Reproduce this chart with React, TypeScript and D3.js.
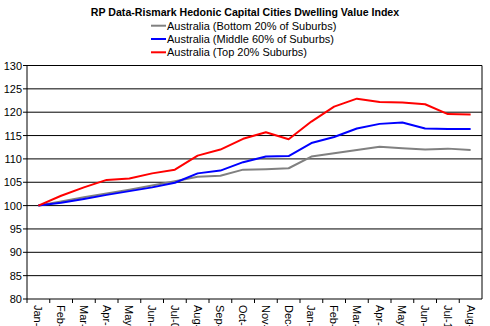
import React from "react";
import * as d3 from "d3";

const months = ["Jan-09","Feb-09","Mar-09","Apr-09","May-09","Jun-09","Jul-09","Aug-09","Sep-09","Oct-09","Nov-09","Dec-09","Jan-10","Feb-10","Mar-10","Apr-10","May-10","Jun-10","Jul-10","Aug-10"];
const bottom20 = [100, 100.9, 101.8, 102.6, 103.4, 104.3, 105.2, 106.2, 106.4, 107.7, 107.8, 108.0, 110.5, 111.2, 111.9, 112.6, 112.3, 112.0, 112.2, 111.9];
const middle60 = [100, 100.6, 101.4, 102.3, 103.1, 103.9, 104.9, 106.9, 107.5, 109.3, 110.5, 110.6, 113.4, 114.7, 116.5, 117.5, 117.8, 116.5, 116.4, 116.4];
const top20 = [100, 102.1, 103.9, 105.5, 105.8, 106.9, 107.7, 110.7, 112.0, 114.3, 115.7, 114.2, 118.0, 121.2, 122.9, 122.2, 122.1, 121.7, 119.6, 119.5];
const yTicks = [80, 85, 90, 95, 100, 105, 110, 115, 120, 125, 130];

const seriesList = [
  { name: "Australia (Bottom 20% of Suburbs)", values: bottom20, color: "#808080" },
  { name: "Australia (Middle 60% of Suburbs)", values: middle60, color: "#0000FF" },
  { name: "Australia (Top 20% Suburbs)", values: top20, color: "#FF0000" },
];

const W = 490, H = 326;
const left = 27, right = 482, top = 65.5, bottom = 299;
const font = "'Liberation Sans', Arial, sans-serif";

export default function App() {
  const x = d3.scaleBand<string>().domain(months).range([left, right]);
  const y = d3.scaleLinear().domain([80, 130]).range([bottom, top]);
  const line = d3.line<number>()
    .x((_, i) => (x(months[i]) as number) + x.bandwidth() / 2)
    .y((d) => y(d));

  return (
    <svg width={W} height={H} style={{ position: "absolute", left: 0, top: 0, background: "#fff" }}>
      <rect x={0} y={0} width={W} height={H} fill="#fff" />
      <text x={245} y={15.5} textAnchor="middle" fontFamily={font} fontSize={10.6} fontWeight="bold" fill="#000">
        RP Data-Rismark Hedonic Capital Cities Dwelling Value Index
      </text>
      {seriesList.map((s, i) => (
        <g key={s.name}>
          <line x1={151} x2={166} y1={25.7 + i * 13.3} y2={25.7 + i * 13.3} stroke={s.color} strokeWidth={2} />
          <text x={167} y={29.7 + i * 13.3} fontFamily={font} fontSize={11} fill="#000">{s.name}</text>
        </g>
      ))}
      {yTicks.map((t) => (
        <g key={t}>
          <line x1={left} x2={right} y1={y(t)} y2={y(t)} stroke="#000" strokeWidth={1} />
          <line x1={left - 4} x2={left} y1={y(t)} y2={y(t)} stroke="#000" strokeWidth={1} />
          <text x={left - 5} y={y(t) + 4} textAnchor="end" fontFamily={font} fontSize={11} fill="#000">{t}</text>
        </g>
      ))}
      <line x1={left} x2={left} y1={top} y2={bottom} stroke="#000" strokeWidth={1} />
      <line x1={right} x2={right} y1={top} y2={bottom} stroke="#000" strokeWidth={1} />
      {months.map((m, i) => (
        <line key={"t" + m} x1={left + i * x.bandwidth()} x2={left + i * x.bandwidth()} y1={bottom} y2={bottom + 4} stroke="#000" strokeWidth={1} />
      ))}
      {months.map((m) => {
        const cx = (x(m) as number) + x.bandwidth() / 2;
        return (
          <text key={"l" + m} transform={`translate(${cx - 4},${bottom + 6}) rotate(90)`} fontFamily={font} fontSize={11} fill="#000">
            {m}
          </text>
        );
      })}
      {seriesList.map((s) => (
        <path key={"p" + s.name} d={line(s.values) || ""} fill="none" stroke={s.color} strokeWidth={2} strokeLinejoin="round" />
      ))}
    </svg>
  );
}
